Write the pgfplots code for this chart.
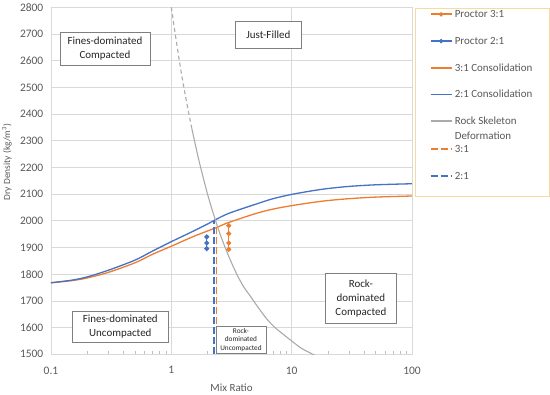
\documentclass[border=0pt]{standalone}
\usepackage{fontspec}
\setmainfont{Carlito}
\usepackage{pgfplots}
\pgfplotsset{compat=1.18}
\definecolor{cOrange}{RGB}{237,125,49}
\definecolor{cBlue}{RGB}{68,114,196}
\definecolor{cGray}{RGB}{170,170,170}
\definecolor{gridc}{RGB}{217,217,217}
\definecolor{axc}{RGB}{191,191,191}
\definecolor{tickc}{RGB}{89,89,89}
\definecolor{legc}{RGB}{248,218,160}
\definecolor{boxc}{RGB}{127,127,127}
\newcommand{\LE}[3]{\makebox[80.4bp][l]{\rule[-#2bp]{0pt}{\dimexpr#1bp+#2bp\relax}#3}}
\begin{document}
\begin{tikzpicture}
\useasboundingbox (-51bp,-40bp) rectangle (499bp,354.3bp);
\begin{axis}[
  at={(0,0)}, anchor=south west,
  scale only axis, width=361bp, height=347bp,
  xmode=log, xmin=0.1, xmax=100, ymin=1500, ymax=2800,
  xtick={0.1,1,10,100}, xticklabels={0.1,1,10,100},
  minor xtick={0.2,0.3,0.4,0.5,0.6,0.7,0.8,0.9,2,3,4,5,6,7,8,9,20,30,40,50,60,70,80,90},
  ytick={1500,1600,1700,1800,1900,2000,2100,2200,2300,2400,2500,2600,2700,2800},
  yticklabels={1500,1600,1700,1800,1900,2000,2100,2200,2300,2400,2500,2600,2700,2800},
  xtick pos=left, ytick pos=left,
  axis line style={draw=gridc, line width=0.75bp},
  grid=major, major grid style={draw=gridc, line width=0.75bp},
  tick align=inside, major tick length=0pt, minor tick length=3bp,
  minor tick style={draw=axc, line width=0.6bp},
  ytick style={draw=none},
  ticklabel style={font=\fontsize{11.5}{13}\selectfont, text=tickc},
  yticklabel style={xshift=-4.2bp},
  xticklabel style={yshift=-8.8bp},
  xlabel={Mix Ratio},
  xlabel style={at={(axis description cs:0.5,0)}, anchor=center, yshift=-33bp, font=\fontsize{11}{13}\selectfont, text=tickc},
  ylabel={Dry Density (kg/m\textsuperscript{3})},
  ylabel style={at={(axis description cs:-0.1219,0.554)}, anchor=center, font=\fontsize{9.5}{11}\selectfont, text=tickc},
  legend style={at={(axis description cs:1.0083,0.998)}, anchor=north west,
    draw=legc, line width=0.8bp, fill=white, inner xsep=14.3bp, inner ysep=0pt,
    row sep=0pt, column sep=2.3bp,
    font=\fontsize{11}{13}\selectfont, text=tickc,
    nodes={inner sep=0pt, text depth={}}, cells={anchor=base west}},
]
% consolidation curves
\addplot[draw=cOrange, line width=1.3bp, smooth, no marks, forget plot] coordinates {
 (0.1,1768)(0.15,1776)(0.2,1786)(0.3,1807)(0.5,1843)(0.7,1875)(1,1905)(1.5,1940)(2,1962)(2.4,1976)(3,1994)(5,2027)(7,2044)(10,2057)(15,2069)(20,2076)(30,2083)(50,2089)(100,2093)};
\addplot[draw=cBlue, line width=1.3bp, smooth, no marks, forget plot] coordinates {
 (0.1,1768)(0.15,1778)(0.2,1790)(0.3,1815)(0.5,1853)(0.7,1887)(1,1922)(1.5,1960)(2,1988)(2.3,2003)(3,2028)(5,2062)(7,2083)(10,2099)(15,2113)(20,2121)(30,2129)(50,2135)(100,2139)};
% rock skeleton deformation
\addplot[draw=cGray, line width=1.1bp, smooth, no marks, forget plot] coordinates {
 (1.48,2346)(1.7,2224)(2.0,2100)(2.3,2009)(2.6,1938)(3.0,1867)(3.5,1800)(4.0,1752)(4.5,1720)(5,1690)(6,1641)(7,1607)(8.5,1575)(10,1550)(12,1523)(15,1500)(16,1494)};
\addplot[draw=cGray, line width=1.1bp, smooth, no marks, dash pattern=on 4bp off 3bp, forget plot] coordinates {
 (1,2800)(1.1,2673)(1.22,2545)(1.35,2437)(1.48,2346)};
% vertical dashed lines
\addplot[draw=cOrange, line width=1.4bp, dash pattern=on 7bp off 3bp, no marks, forget plot] coordinates {(2.38,1500)(2.38,1978)};
\addplot[draw=cBlue, line width=1.4bp, dash pattern=on 7bp off 3bp, no marks, forget plot] coordinates {(2.27,1500)(2.27,2003)};
% proctor points
\addplot[draw=cOrange, line width=1.3bp, mark=*, mark size=1.8bp, mark options={solid, draw=cOrange, fill=cOrange}, forget plot] coordinates {(3,1982)(3,1952)(3,1917)(3,1893)};
\addplot[draw=cBlue, line width=1.3bp, mark=*, mark size=1.8bp, mark options={solid, draw=cBlue, fill=cBlue}, forget plot] coordinates {(1.97,1940)(1.97,1917)(1.97,1896)};
% boxes
\node[draw=boxc, fill=white, line width=0.8bp, align=center, minimum width=90bp, minimum height=33bp, inner sep=0pt, font=\fontsize{11}{14}\selectfont, text=black!85] at (axis cs:0.281,2646) {Fines-dominated\\Compacted};
\node[draw=boxc, fill=white, line width=0.8bp, align=center, minimum width=66.7bp, minimum height=26.6bp, inner sep=0pt, font=\fontsize{11}{14}\selectfont, text=black!85] at (axis cs:6.4,2696) {Just-Filled};
\node[draw=boxc, fill=white, line width=0.8bp, align=center, minimum width=71.7bp, minimum height=49.3bp, inner sep=0pt, font=\fontsize{11}{14}\selectfont, text=black!85] at (axis cs:37.6,1709) {Rock-\\dominated\\Compacted};
\node[draw=boxc, fill=white, line width=0.8bp, align=center, minimum width=96bp, minimum height=30.6bp, inner sep=0pt, font=\fontsize{11}{14}\selectfont, text=black!85] at (axis cs:0.377,1603) {Fines-dominated\\Uncompacted};
\node[draw=boxc, fill=white, line width=0.7bp, align=center, minimum width=50bp, minimum height=26.6bp, inner sep=0pt, font=\fontsize{7.3}{8.3}\selectfont, text=black!85] at (axis cs:3.79,1554) {Rock-\\dominated\\Uncompacted};
% legend
\addlegendimage{legend image code/.code={\draw[draw=cOrange, line width=1.8bp] (0bp,3.5bp) -- (21bp,3.5bp); \draw[draw=cOrange, fill=cOrange] plot[mark=*, mark size=1.8bp] coordinates {(10.5bp,3.5bp)};}}
\addlegendentry{\LE{9.5}{13.35}{Proctor 3:1}}
\addlegendimage{legend image code/.code={\draw[draw=cBlue, line width=1.8bp] (0bp,3.5bp) -- (21bp,3.5bp); \draw[draw=cBlue, fill=cBlue] plot[mark=*, mark size=1.8bp] coordinates {(10.5bp,3.5bp)};}}
\addlegendentry{\LE{13.35}{13.35}{Proctor 2:1}}
\addlegendimage{legend image code/.code={\draw[draw=cOrange, line width=1.8bp] (0bp,3.5bp) -- (21bp,3.5bp);}}
\addlegendentry{\LE{13.35}{13.35}{3:1 Consolidation}}
\addlegendimage{legend image code/.code={\draw[draw=cBlue, line width=1.8bp] (0bp,3.5bp) -- (21bp,3.5bp);}}
\addlegendentry{\LE{13.35}{13.35}{2:1 Consolidation}}
\addlegendimage{legend image code/.code={\draw[draw=cGray, line width=1.6bp] (0bp,3.5bp) -- (21bp,3.5bp);}}
\addlegendentry{\LE{13.35}{7}{Rock Skeleton}}
\addlegendimage{legend image code/.code={}}
\addlegendentry{\LE{7}{6.3}{Deformation}}
\addlegendimage{legend image code/.code={\draw[draw=cOrange, line width=1.8bp, dash pattern=on 7bp off 3bp] (0bp,3.5bp) -- (21bp,3.5bp);}}
\addlegendentry{\LE{6.3}{13.35}{3:1}}
\addlegendimage{legend image code/.code={\draw[draw=cBlue, line width=1.8bp, dash pattern=on 7bp off 3bp] (0bp,3.5bp) -- (21bp,3.5bp);}}
\addlegendentry{\LE{13.35}{17.5}{2:1}}
\end{axis}
\end{tikzpicture}
\end{document}
